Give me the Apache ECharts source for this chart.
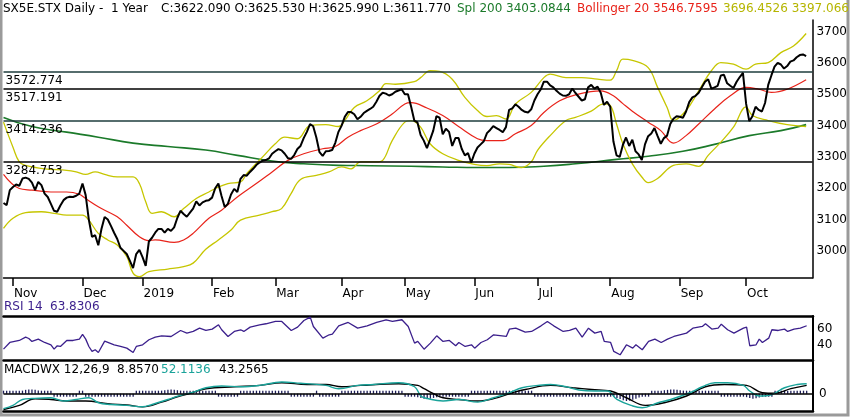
<!DOCTYPE html>
<html>
<head>
<meta charset="utf-8">
<script src="https://cdn.jsdelivr.net/npm/echarts/dist/echarts.min.js"></script>
<style>
  html, body { margin: 0; padding: 0; background: #fff; }
  #chart { width: 850px; height: 417px; }
</style>
</head>
<body>
<div id="chart"></div>
<script>
// SX5E daily, 1 year: price + bollinger + spline 200, RSI, MACD

// trading days (weekdays minus exchange holidays), last two are empty padding
var holidays = ['2018-12-25', '2018-12-26', '2019-01-01', '2019-04-19', '2019-04-22', '2019-05-01'];
var dates = [];
for (var d = new Date(Date.UTC(2018, 9, 29)); d <= new Date(Date.UTC(2019, 9, 30)); d.setUTCDate(d.getUTCDate() + 1)) {
    var wd = d.getUTCDay();
    var s = d.toISOString().slice(0, 10);
    if (wd === 0 || wd === 6 || holidays.indexOf(s) >= 0) continue;
    dates.push(s);
}
var monthNames = ['2019', 'Feb', 'Mar', 'Apr', 'May', 'Jun', 'Jul', 'Aug', 'Sep', 'Oct', 'Nov', 'Dec'];

var closePrice = [
    3153,3146,3194,3204,3212,3208,3231,3234,3230,3218,
    3194,3220,3210,3183,3172,3150,3128,3125,3145,3162,
    3170,3173,3172,3176,3183,3215,3178,3100,3045,3050,
    3018,3070,3108,3100,3080,3058,3038,3010,3000,2990,
    2968,2945,2990,3003,2980,2952,3030,3042,3058,3070,
    3070,3058,3070,3064,3075,3105,3128,3118,3109,3122,
    3135,3158,3145,3155,3160,3162,3170,3200,3215,3175,
    3140,3150,3180,3198,3188,3230,3242,3240,3252,3262,
    3274,3282,3288,3290,3295,3310,3318,3325,3321,3310,
    3296,3294,3306,3325,3335,3360,3380,3405,3398,3362,
    3315,3303,3318,3319,3322,3345,3380,3400,3428,3443,
    3443,3436,3420,3428,3440,3447,3453,3460,3476,3495,
    3505,3502,3496,3500,3508,3512,3516,3500,3500,3460,
    3416,3410,3370,3352,3328,3355,3384,3430,3425,3372,
    3390,3380,3335,3360,3360,3326,3305,3312,3282,3310,
    3330,3340,3350,3376,3386,3398,3392,3386,3379,3395,
    3450,3455,3468,3460,3450,3444,3442,3452,3480,3500,
    3515,3540,3540,3528,3522,3511,3502,3496,3495,3500,
    3518,3504,3492,3480,3484,3522,3530,3518,3524,3505,
    3466,3476,3460,3350,3305,3300,3338,3362,3335,3355,
    3318,3308,3290,3340,3366,3375,3392,3366,3342,3360,
    3368,3405,3422,3430,3428,3425,3445,3475,3490,3495,
    3505,3522,3540,3548,3518,3522,3527,3560,3562,3535,
    3527,3520,3540,3555,3568,3470,3414,3430,3460,3450,
    3445,3472,3530,3560,3588,3600,3595,3582,3590,3604,
    3608,3618,3625,3627,3622
];

// [day index, value]
var bollMid = [[0,3244],[5,3199],[9,3194],[15,3188],[20,3188],[24,3181],[26,3167],[30,3141],[33,3125],[36,3109],
    [39,3082],[43,3045],[46,3033],[48,3035],[54,3027],[57,3035],[60,3056],[65,3104],[69,3130],[74,3172],
    [80,3215],[85,3252],[90,3289],[95,3310],[101,3326],[105,3333],[109,3363],[113,3384],[118,3405],[123,3437],
    [127,3469],[129,3473],[134,3456],[139,3432],[144,3397],[150,3358],[153,3352],[158,3352],[162,3374],[167,3400],
    [171,3442],[176,3479],[181,3498],[189,3511],[193,3495],[196,3470],[199,3446],[204,3411],[208,3384],[212,3344],
    [216,3368],[220,3405],[225,3453],[230,3495],[235,3522],[239,3516],[243,3506],[248,3516],[254,3546]];
var bollUp = [[0,3411],[3,3331],[5,3284],[7,3273],[13,3262],[20,3257],[23,3252],[26,3244],[29,3252],[32,3244],
    [36,3236],[41,3236],[43,3215],[45,3157],[47,3120],[50,3125],[54,3109],[57,3135],[61,3167],[65,3188],
    [67,3199],[71,3215],[75,3220],[77,3247],[82,3300],[86,3342],[89,3363],[93,3358],[97,3400],[102,3403],
    [106,3397],[108,3416],[111,3458],[115,3479],[119,3511],[121,3534],[124,3532],[130,3540],[132,3553],[135,3575],
    [138,3573],[142,3548],[146,3490],[150,3448],[153,3429],[156,3432],[159,3421],[162,3469],[167,3506],[171,3553],
    [173,3564],[178,3553],[183,3553],[188,3548],[192,3545],[194,3575],[196,3612],[199,3608],[204,3585],[207,3522],
    [210,3458],[212,3416],[216,3448],[220,3511],[224,3575],[227,3601],[231,3596],[235,3580],[238,3596],[242,3601],
    [246,3633],[250,3654],[254,3694]];
var bollLow = [[0,3072],[3,3104],[7,3122],[12,3125],[16,3120],[20,3114],[25,3114],[27,3098],[30,3056],[33,3035],
    [36,3019],[39,2982],[41,2929],[43,2918],[46,2934],[52,2942],[57,2950],[60,2961],[64,3005],[68,3035],
    [72,3067],[75,3098],[81,3114],[85,3125],[88,3135],[91,3183],[94,3228],[99,3241],[103,3252],[107,3268],
    [110,3262],[113,3284],[118,3284],[120,3289],[123,3352],[127,3411],[129,3416],[132,3395],[135,3342],[139,3310],
    [144,3289],[149,3276],[153,3272],[157,3278],[160,3276],[164,3266],[167,3284],[169,3321],[173,3368],[178,3416],
    [181,3426],[186,3446],[190,3469],[192,3464],[194,3405],[196,3342],[199,3278],[202,3236],[204,3218],[207,3231],
    [212,3273],[216,3278],[220,3270],[223,3305],[227,3347],[231,3395],[235,3460],[237,3432],[242,3416],[248,3403],
    [254,3397]];
var spline200 = [[0,3426],[9,3397],[20,3379],[30,3363],[41,3344],[52,3333],[64,3322],[74,3305],[85,3287],[95,3278],
    [106,3273],[116,3272],[129,3270],[139,3268],[150,3266],[160,3266],[171,3270],[181,3278],[194,3292],[204,3302],
    [215,3318],[225,3340],[236,3368],[246,3384],[254,3403]];
var levelLines = ['3572.774', '3517.191', '3414.236', '3284.753'];
var priceTicks = [3000, 3100, 3200, 3300, 3400, 3500, 3600, 3700];

var rsi14 = [[0,34.6],[2,42.9],[5,45.4],[7,49.6],[8,47.9],[9,44.2],[11,47.1],[13,42.9],[15,40],[16,34.6],
    [17,38.8],[18,37.9],[20,45.4],[22,45.4],[24,47.1],[25,52.9],[26,47.1],[27,37.9],[28,31.7],[29,33.8],
    [30,30.4],[32,44.6],[35,40],[37,37.9],[39,35.8],[41,30.4],[42,37.9],[44,40],[46,46.3],[48,49.6],
    [50,51.2],[53,50.4],[56,57.9],[58,54.6],[60,56.7],[62,60.8],[64,57.9],[66,59.6],[68,65],[69,58.8],
    [71,50.4],[73,56.7],[75,58.8],[76,56.7],[78,62.1],[81,65],[83,66.3],[86,69.2],[88,69.2],[91,57.9],
    [93,62.1],[95,70.4],[97,74.6],[98,62.9],[101,48.3],[103,52.5],[104,53.3],[106,63.7],[109,67.9],[112,60.8],
    [115,63.7],[118,67.9],[121,71.3],[123,69.2],[126,71.3],[128,62.9],[130,42.1],[131,44.2],[133,34.5],[135,42.1],
    [137,51.2],[139,44.2],[141,45.4],[143,38.8],[144,42.9],[146,37.9],[148,40],[149,35.8],[151,42.9],[153,46.3],
    [155,52.5],[159,50.4],[160,59.6],[162,60.8],[165,55.8],[167,56.7],[170,63.7],[172,69.2],[174,63.7],[177,56.7],
    [179,57.9],[181,60.8],[183,49.6],[185,60.8],[187,54.6],[189,56.7],[190,44.2],[192,42.9],[193,31.7],[195,27.5],
    [197,40],[199,35.8],[200,40],[202,33.8],[204,44.2],[206,47.1],[208,42.9],[210,47.1],[212,50.4],[216,54.6],
    [218,60.8],[221,62.9],[222,66.3],[224,59.6],[226,60.8],[227,65.8],[229,58.8],[231,54.6],[234,60.8],[235,62.1],
    [236,38.8],[238,40],[239,47.1],[240,42.9],[242,48.3],[243,58.8],[245,57.9],[247,59.6],[248,56.7],[250,59.6],
    [252,60.8],[254,63.8]];

var macdLine = [[0,-78],[3,-61],[6,-30],[9,-25],[15,-21],[19,-38],[23,-30],[27,-21],[30,-47],[34,-56],
    [39,-61],[44,-68],[47,-56],[52,-30],[56,-9],[60,8],[64,31],[69,40],[75,36],[81,43],
    [88,61],[94,54],[98,50],[102,43],[106,26],[112,43],[117,48],[125,57],[130,36],[132,-12],
    [134,-25],[139,-38],[144,-30],[150,-44],[155,-21],[160,5],[164,31],[169,43],[173,48],[178,36],
    [182,19],[187,14],[191,14],[194,-30],[199,-64],[202,-73],[207,-47],[211,-30],[217,5],[221,36],
    [225,57],[229,57],[234,43],[236,14],[239,-12],[243,-4],[247,31],[251,48],[254,52]];
var signalLine = [[0,-82],[5,-61],[10,-26],[15,-30],[20,-38],[26,-38],[33,-52],[39,-59],[44,-68],[50,-44],
    [55,-16],[59,2],[64,26],[73,36],[81,43],[88,57],[96,48],[102,48],[107,36],[113,43],
    [125,52],[131,43],[133,26],[136,0],[139,-21],[144,-30],[150,-38],[155,-26],[161,5],[165,22],
    [173,43],[180,31],[186,22],[192,14],[197,-21],[203,-61],[209,-47],[216,-12],[222,36],[228,48],
    [235,43],[240,5],[244,2],[249,26],[254,43]];
var macdHist = [
    2,4,6,8,10,12,16,20,22,22,
    20,16,12,8,4,0,-3,-5,-6,-6,
    -5,-4,-3,-2,0,2,-2,-4,-6,-8,
    -9,-10,-9,-8,-7,-6,-5,-4,-3,-3,
    -2,-1,0,2,4,6,8,10,12,14,
    16,18,20,22,20,18,16,12,10,8,
    6,5,4,3,2,2,1,0,-1,-2,
    -3,-3,-2,-2,-1,0,1,2,3,4,
    5,5,5,4,4,3,3,2,2,1,
    0,-1,-2,-3,-4,-4,-3,-2,-1,0,
    -2,-4,-6,-7,-6,-4,-2,0,2,3,
    4,4,4,3,3,3,3,3,3,3,
    4,4,4,4,3,2,1,-2,-6,-10,
    -14,-18,-22,-26,-28,-26,-22,-18,-14,-10,
    -8,-6,-5,-4,-4,-3,-2,-1,0,2,
    4,6,8,10,12,14,14,13,12,10,
    8,6,5,4,3,2,1,0,-1,-2,
    -3,-4,-4,-4,-3,-3,-2,-2,-2,-2,
    -3,-3,-3,-3,-3,-2,-2,-2,-2,-3,
    -4,-6,-10,-16,-22,-28,-34,-38,-36,-32,
    -26,-20,-14,-8,-2,2,6,10,14,18,
    20,22,22,20,18,16,14,12,10,8,
    6,5,4,3,2,1,0,-1,-2,-3,
    -4,-5,-6,-8,-12,-18,-22,-26,-24,-20,
    -16,-12,-8,-4,0,2,4,5,6,7,
    8,8,9,9,9
];

var FONT = 'DejaVu Sans';
var BLACK = '#000000', GREEN = '#1b7a2a', RED = '#e8231a', YELLOW = '#c6c600';
var PURPLE = '#3b1f8c', TEAL = '#1aa39a';

// first trading day of each month gets a tick + label
function isMonthStart(i) {
    if (i === 0 || !dates[i]) return false;
    return dates[i].slice(5, 7) !== dates[i - 1].slice(5, 7);
}
function monthLabel(v) {
    return monthNames[parseInt(v.slice(5, 7), 10) - 1];
}
function plainNum(v) { return String(v); }

var L = 3.5, W = 809.5;

function plainX(grid, pos, width) {
    return {
        gridIndex: grid, type: 'category', data: dates, boundaryGap: false, position: pos,
        axisLine: {show: true, onZero: false, lineStyle: {color: BLACK, width: width}},
        axisTick: {show: false}, axisLabel: {show: false}, splitLine: {show: false}
    };
}

var chart = echarts.init(document.getElementById('chart'), null, {renderer: 'canvas'});

var option = {
    animation: false,
    backgroundColor: '#ffffff',
    grid: [
        {left: L, width: W, top: 20, height: 258},
        {left: L, width: W, top: 316, height: 44},
        {left: L, width: W, top: 361, height: 50}
    ],
    xAxis: [
        {
            gridIndex: 0, type: 'category', data: dates, boundaryGap: false,
            axisLine: {show: true, onZero: false, lineStyle: {color: BLACK, width: 1.5}},
            axisTick: {show: true, interval: isMonthStart, length: 8, lineStyle: {color: BLACK, width: 1.5}},
            axisLabel: {
                interval: isMonthStart, formatter: monthLabel, align: 'left', margin: 10,
                color: BLACK, fontFamily: FONT, fontSize: 12, padding: [0, 0, 0, 1]
            },
            splitLine: {show: false}
        },
        plainX(1, 'bottom', 2.5),
        plainX(2, 'bottom', 2.5),
        plainX(1, 'top', 2.5)
    ],
    yAxis: [
        {
            gridIndex: 0, type: 'value', position: 'right', min: 2913.5, max: 3737,
            axisLine: {show: true, lineStyle: {color: BLACK, width: 1.5}},
            axisTick: {show: false}, splitLine: {show: false},
            axisLabel: {customValues: priceTicks, formatter: plainNum, margin: 4, color: BLACK, fontFamily: FONT, fontSize: 12}
        },
        {
            gridIndex: 1, type: 'value', position: 'right', min: 21, max: 76,
            axisLine: {show: true, lineStyle: {color: BLACK, width: 2}},
            axisTick: {show: false}, splitLine: {show: false},
            axisLabel: {customValues: [40, 60], formatter: plainNum, margin: 4, color: BLACK, fontFamily: FONT, fontSize: 12}
        },
        {
            gridIndex: 2, type: 'value', position: 'right', min: -90, max: 170,
            axisLine: {show: true, lineStyle: {color: BLACK, width: 2}},
            axisTick: {show: false}, splitLine: {show: false},
            axisLabel: {customValues: [0], formatter: plainNum, margin: 6, color: BLACK, fontFamily: FONT, fontSize: 12}
        }
    ],
    series: [
        {
            name: 'Spl 200', type: 'line', data: spline200, smooth: true, showSymbol: false,
            xAxisIndex: 0, yAxisIndex: 0, lineStyle: {color: GREEN, width: 1.6}, z: 2
        },
        {
            name: 'Upper', type: 'line', data: bollUp, smooth: 0.4, showSymbol: false,
            xAxisIndex: 0, yAxisIndex: 0, lineStyle: {color: YELLOW, width: 1.3}, z: 2
        },
        {
            name: 'Lower', type: 'line', data: bollLow, smooth: 0.4, showSymbol: false,
            xAxisIndex: 0, yAxisIndex: 0, lineStyle: {color: YELLOW, width: 1.3}, z: 2
        },
        {
            name: 'Bollinger 20', type: 'line', data: bollMid, smooth: 0.4, showSymbol: false,
            xAxisIndex: 0, yAxisIndex: 0, lineStyle: {color: RED, width: 1.2}, z: 3
        },
        {
            name: 'Close', type: 'line', data: closePrice, showSymbol: false,
            xAxisIndex: 0, yAxisIndex: 0, lineStyle: {color: BLACK, width: 2}, z: 5,
            markLine: {
                silent: true, symbol: 'none', animation: false,
                lineStyle: {type: 'solid', width: 1.5, color: BLACK},
                label: {
                    position: 'insideStartBottom', distance: [2, 3], formatter: '{b}',
                    color: BLACK, fontFamily: FONT, fontSize: 12
                },
                data: levelLines.map(function (v, k) {
                    return {name: v, yAxis: parseFloat(v), lineStyle: {color: k % 2 === 0 ? '#1e3c3c' : BLACK}};
                })
            }
        },
        {
            name: 'RSI 14', type: 'line', data: rsi14, showSymbol: false,
            xAxisIndex: 1, yAxisIndex: 1, lineStyle: {color: PURPLE, width: 1.3}
        },
        {
            name: 'Hist', type: 'bar', data: macdHist, barWidth: 1.3, barMinHeight: 3,
            xAxisIndex: 2, yAxisIndex: 2, itemStyle: {color: '#1c1c58'},
            markLine: {
                silent: true, symbol: 'none', animation: false, label: {show: false},
                lineStyle: {type: 'solid', width: 1.5, color: BLACK},
                data: [{yAxis: 0}]
            }
        },
        {
            name: 'Signal', type: 'line', data: signalLine, smooth: 0.4, showSymbol: false,
            xAxisIndex: 2, yAxisIndex: 2, lineStyle: {color: BLACK, width: 1.4}, z: 3
        },
        {
            name: 'MACD', type: 'line', data: macdLine, smooth: 0.4, showSymbol: false,
            xAxisIndex: 2, yAxisIndex: 2, lineStyle: {color: TEAL, width: 1.4}, z: 4
        }
    ],
    graphic: [
        // outer frame
        {type: 'rect', shape: {x: 1, y: -5, width: 847, height: 420}, style: {fill: 'none', stroke: '#9a9a9a', lineWidth: 3}, silent: true},
        // header texts
        {type: 'text', x: 3, y: 9, style: {text: 'SX5E.STX Daily -  1 Year', fill: BLACK, font: '12px "DejaVu Sans"', verticalAlign: 'middle', textVerticalAlign: 'middle'}},
        {type: 'text', x: 161, y: 9, style: {text: 'C:3622.090 O:3625.530 H:3625.990 L:3611.770', fill: BLACK, font: '12px "DejaVu Sans"', verticalAlign: 'middle', textVerticalAlign: 'middle'}},
        {type: 'text', x: 457, y: 9, style: {text: 'Spl 200 3403.0844', fill: GREEN, font: '12px "DejaVu Sans"', verticalAlign: 'middle', textVerticalAlign: 'middle'}},
        {type: 'text', x: 577, y: 9, style: {text: 'Bollinger 20 3546.7595', fill: RED, font: '12px "DejaVu Sans"', verticalAlign: 'middle', textVerticalAlign: 'middle'}},
        {type: 'text', x: 723, y: 9, style: {text: '3696.4526 3397.066', fill: '#b5b500', font: '12px "DejaVu Sans"', verticalAlign: 'middle', textVerticalAlign: 'middle'}},
        // RSI panel label
        {type: 'text', x: 4, y: 307, style: {text: 'RSI 14', fill: PURPLE, font: '12px "DejaVu Sans"', verticalAlign: 'middle', textVerticalAlign: 'middle'}},
        {type: 'text', x: 50, y: 307, style: {text: '63.8306', fill: PURPLE, font: '12px "DejaVu Sans"', verticalAlign: 'middle', textVerticalAlign: 'middle'}},
        // MACD panel label
        {type: 'text', x: 4, y: 370, style: {text: 'MACDWX 12,26,9', fill: BLACK, font: '12px "DejaVu Sans"', verticalAlign: 'middle', textVerticalAlign: 'middle'}},
        {type: 'text', x: 117, y: 370, style: {text: '8.8570', fill: BLACK, font: '12px "DejaVu Sans"', verticalAlign: 'middle', textVerticalAlign: 'middle'}},
        {type: 'text', x: 161, y: 370, style: {text: '52.1136', fill: TEAL, font: '12px "DejaVu Sans"', verticalAlign: 'middle', textVerticalAlign: 'middle'}},
        {type: 'text', x: 219, y: 370, style: {text: '43.2565', fill: BLACK, font: '12px "DejaVu Sans"', verticalAlign: 'middle', textVerticalAlign: 'middle'}}
    ]
};

chart.setOption(option);
</script>
</body>
</html>
